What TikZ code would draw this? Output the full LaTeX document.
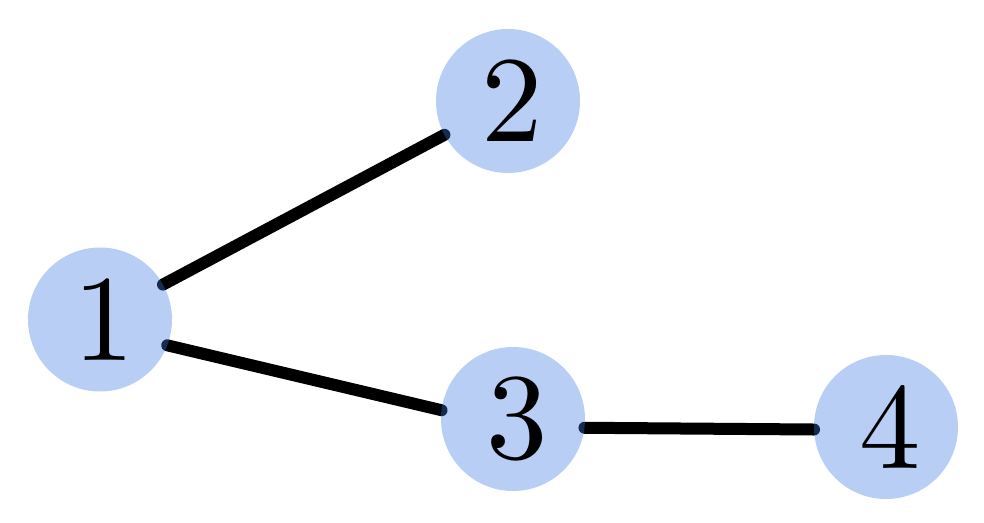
\documentclass[tikz,border=0pt]{standalone}
\usepackage{fontspec}
\setmainfont{lmroman10-regular.otf}
\usetikzlibrary{positioning,backgrounds}
\definecolor{vblue}{RGB}{60,120,225}

\begin{document}
\begin{tikzpicture}[x=0.75pt,y=-0.75pt,
	vertex/.style={circle, fill=vblue, fill opacity=0.36, text opacity=1, minimum size=108pt, inner sep=0pt, outer sep=0pt, font=\fontsize{92}{92}\selectfont},
	link/.style={line width=9pt, line cap=round}]
	\useasboundingbox (0,0) rectangle (984,523);
	\node[vertex] at (100,319.5) (n1) {\hspace*{6pt}1};
	\node[vertex] at (508,101) (n2) {\hspace*{6pt}2};
	\node[vertex] at (513,419) (n3) {\hspace*{6pt}3};
	\node[vertex] at (886,427) (n4) {\hspace*{6pt}4};
	
	% edges below the vertices
	\begin{pgfonlayer}{background}
		\draw[link] (n1.29) -- (n2.208);
		\draw[link] (n1.-21.6) -- (n3.173);
		\draw[link] (n3.-7) -- (n4.182);
	\end{pgfonlayer}
\end{tikzpicture}
\end{document}
